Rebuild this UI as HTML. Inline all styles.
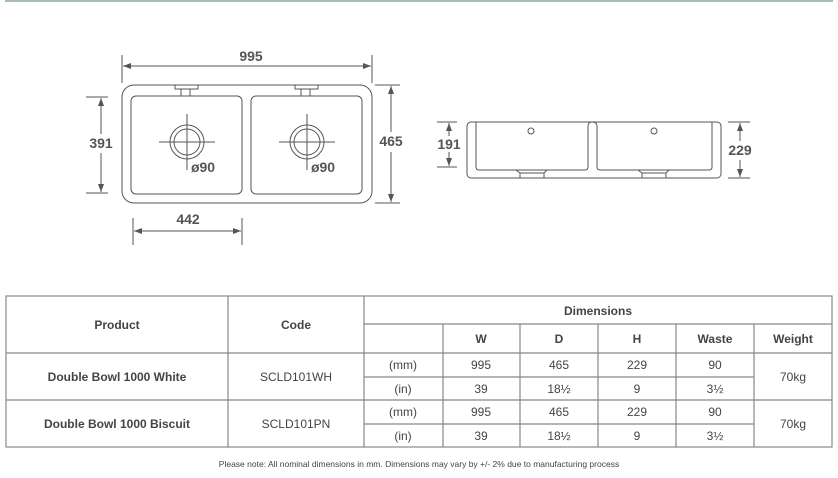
<!DOCTYPE html>
<html><head><meta charset="utf-8"><style>
html,body{margin:0;padding:0;background:#fff;width:838px;height:478px;overflow:hidden}
svg{display:block}
.t{font-family:"Liberation Sans",sans-serif;font-weight:bold;font-size:14px;fill:#555}
.tb{font-family:"Liberation Sans",sans-serif;font-size:12px;fill:#444}
.th{font-family:"Liberation Sans",sans-serif;font-weight:bold;font-size:12px;fill:#444}
</style></head><body>
<svg width="838" height="478" viewBox="0 0 838 478" xmlns="http://www.w3.org/2000/svg">
<defs><marker id="a" markerWidth="8" markerHeight="6" refX="8" refY="3" orient="auto-start-reverse" markerUnits="userSpaceOnUse"><path d="M0,0 L8,3 L0,6 Z" fill="#555"/></marker></defs>
<rect x="5" y="0" width="828" height="2" fill="#a9bdb3"/>
<g fill="none" stroke="#555" stroke-width="1">
<rect x="122" y="85" width="250" height="118" rx="12"/>
<rect x="131" y="96" width="111" height="98" rx="5"/>
<rect x="251" y="96" width="111" height="98" rx="5"/>
<path d="M175,85 V89 H181 V96 M190,96 V89 H198 V85 M181,89 H190"/>
<path d="M295,85 V89 H301 V96 M310,96 V89 H318 V85 M301,89 H310"/>
<circle cx="187" cy="142" r="17"/><circle cx="187" cy="142" r="13"/>
<path d="M159,142 H215 M187,114 V170"/>
<circle cx="307" cy="142" r="17"/><circle cx="307" cy="142" r="13"/>
<path d="M279,142 H335 M307,114 V170"/>
<path d="M122,55 V83 M372,55 V83"/>
<line x1="123" y1="66" x2="371" y2="66" marker-start="url(#a)" marker-end="url(#a)"/>
<path d="M86,97 H108 M86,193 H108"/>
<line x1="101" y1="98" x2="101" y2="134" marker-start="url(#a)"/>
<line x1="101" y1="153" x2="101" y2="192" marker-end="url(#a)"/>
<path d="M375,85 H400 M375,203 H400"/>
<line x1="391" y1="86" x2="391" y2="132" marker-start="url(#a)"/>
<line x1="391" y1="152" x2="391" y2="202" marker-end="url(#a)"/>
<path d="M133,218 V245 M242,218 V245"/>
<line x1="134" y1="231" x2="241" y2="231" marker-start="url(#a)" marker-end="url(#a)"/>
<rect x="467" y="122" width="254" height="56" rx="4"/>
<path d="M476,122 V167 Q476,170 479,170 H585 Q588,170 588,167 V126 Q588,122 592,122 Q597,122 597,126 V167 Q597,170 600,170 H709 Q712,170 712,167 V122"/>
<circle cx="531" cy="131" r="3"/><circle cx="654" cy="131" r="3"/>
<path d="M516,170 L520,173 H544 L547,170 M520,173 V178 M544,173 V178"/>
<path d="M638,170 L642,173 H666 L669,170 M642,173 V178 M666,173 V178"/>
<path d="M437,122 H457 M437,167 H457"/>
<line x1="449" y1="123" x2="449" y2="136" marker-start="url(#a)"/>
<line x1="449" y1="152" x2="449" y2="166" marker-end="url(#a)"/>
<path d="M728,122 H750 M728,178 H750"/>
<line x1="740" y1="123" x2="740" y2="141" marker-start="url(#a)"/>
<line x1="740" y1="160" x2="740" y2="177" marker-end="url(#a)"/>
</g>
<text class="t" x="251" y="61" text-anchor="middle">995</text>
<text class="t" x="101" y="148" text-anchor="middle">391</text>
<text class="t" x="391" y="146" text-anchor="middle">465</text>
<text class="t" x="188" y="224" text-anchor="middle">442</text>
<text class="t" x="203" y="172" text-anchor="middle">ø90</text>
<text class="t" x="323" y="172" text-anchor="middle">ø90</text>
<text class="t" x="449" y="149" text-anchor="middle">191</text>
<text class="t" x="740" y="155" text-anchor="middle">229</text>
<g fill="none" stroke="#888" stroke-width="1.2">
<rect x="6" y="296" width="826" height="151"/>
<path d="M228,296 V447 M364,296 V447 M364,324 H832 M6,353 H832 M6,400 H832 M364,377 H754 M364,424 H754"/>
<path d="M443,324 V447 M520,324 V447 M598,324 V447 M676,324 V447 M754,324 V447"/>
</g>
<text class="th" x="117" y="329" text-anchor="middle">Product</text>
<text class="th" x="296" y="329" text-anchor="middle">Code</text>
<text class="th" x="598" y="315" text-anchor="middle">Dimensions</text>
<text class="th" x="481" y="343" text-anchor="middle">W</text>
<text class="th" x="559" y="343" text-anchor="middle">D</text>
<text class="th" x="637" y="343" text-anchor="middle">H</text>
<text class="th" x="715" y="343" text-anchor="middle">Waste</text>
<text class="th" x="793" y="343" text-anchor="middle">Weight</text>
<text class="th" x="117" y="381" text-anchor="middle">Double Bowl 1000 White</text>
<text class="tb" x="296" y="381" text-anchor="middle">SCLD101WH</text>
<text class="th" x="117" y="428" text-anchor="middle">Double Bowl 1000 Biscuit</text>
<text class="tb" x="296" y="428" text-anchor="middle">SCLD101PN</text>
<g class="tb" text-anchor="middle">
<text x="403" y="369">(mm)</text><text x="481" y="369">995</text><text x="559" y="369">465</text><text x="637" y="369">229</text><text x="715" y="369">90</text>
<text x="403" y="393">(in)</text><text x="481" y="393">39</text><text x="559" y="393">18½</text><text x="637" y="393">9</text><text x="715" y="393">3½</text>
<text x="403" y="416">(mm)</text><text x="481" y="416">995</text><text x="559" y="416">465</text><text x="637" y="416">229</text><text x="715" y="416">90</text>
<text x="403" y="440">(in)</text><text x="481" y="440">39</text><text x="559" y="440">18½</text><text x="637" y="440">9</text><text x="715" y="440">3½</text>
<text x="793" y="381">70kg</text><text x="793" y="428">70kg</text>
</g>
<text x="419" y="467" text-anchor="middle" style="font-family:'Liberation Sans',sans-serif;font-size:8.5px;fill:#444">Please note: All nominal dimensions in mm. Dimensions may vary by +/- 2% due to manufacturing process</text>
</svg>
</body></html>
